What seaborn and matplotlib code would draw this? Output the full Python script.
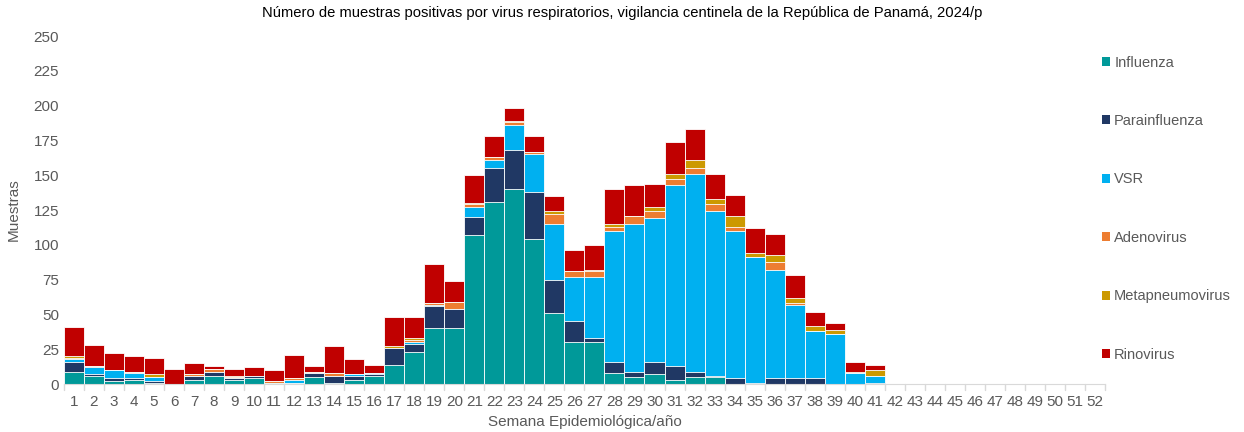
import matplotlib
matplotlib.use('Agg')
import matplotlib.pyplot as plt
import pandas as pd
import seaborn as sns
from matplotlib.patches import Patch

weeks = list(range(1, 53))

influenza = [9, 6, 2, 3, 1, 0, 3, 6, 3, 4, 1, 1, 5, 1, 3, 6, 14, 23, 40, 40,
             107, 131, 140, 104, 51, 30, 30, 8, 5, 7, 3, 5, 5, 0, 0, 0, 0, 0, 0, 0, 0]
parainfluenza = [7, 1, 2, 1, 1, 0, 3, 3, 1, 2, 0, 0, 3, 5, 3, 1, 12, 6, 16, 14,
                 13, 24, 28, 34, 24, 15, 3, 8, 4, 9, 10, 4, 1, 4, 1, 4, 4, 4, 0, 0, 1]
vsr = [2, 5, 6, 4, 3, 0, 0, 0, 0, 0, 0, 2, 0, 0, 1, 1, 0, 1, 1, 0,
       7, 6, 18, 27, 40, 32, 44, 94, 106, 103, 130, 142, 118, 106, 90, 78, 53, 34, 36, 8, 5]
adenovirus = [1, 1, 0, 1, 0, 0, 1, 2, 1, 0, 1, 1, 1, 2, 0, 0, 0, 2, 1, 5,
              2, 2, 2, 2, 7, 4, 4, 3, 6, 5, 4, 4, 5, 3, 0, 6, 1, 0, 0, 0, 0]
metapneumovirus = [1, 0, 0, 0, 2, 0, 0, 0, 1, 0, 0, 0, 0, 0, 0, 0, 1, 1, 0, 0,
                   1, 0, 1, 0, 2, 0, 1, 2, 0, 3, 4, 6, 4, 8, 3, 5, 4, 4, 3, 1, 4]
rinovirus = [21, 15, 12, 11, 12, 11, 8, 2, 5, 6, 8, 17, 4, 19, 11, 6, 21, 15, 28, 15,
             20, 15, 9, 11, 11, 15, 18, 25, 22, 17, 23, 22, 18, 15, 18, 15, 16, 10, 5, 7, 4]

series = {
    'Influenza': influenza,
    'Parainfluenza': parainfluenza,
    'VSR': vsr,
    'Adenovirus': adenovirus,
    'Metapneumovirus': metapneumovirus,
    'Rinovirus': rinovirus,
}
colors = {
    'Influenza': '#009999',
    'Parainfluenza': '#203864',
    'VSR': '#00B0F0',
    'Adenovirus': '#ED7D31',
    'Metapneumovirus': '#CC9900',
    'Rinovirus': '#C00000',
}

df = pd.DataFrame({'semana': weeks})
for name, vals in series.items():
    df[name] = vals + [0] * (len(weeks) - len(vals))

sns.set_style('white')
plt.rcParams['font.family'] = ['Liberation Sans', 'DejaVu Sans']
text_color = '#595959'

fig = plt.figure(figsize=(12.44, 4.32), dpi=100)
ax = fig.add_axes([0.0514, 0.111, 0.8368, 0.8056])

# stacked bars: draw cumulative totals from the top series down
x_labels = [str(w) for w in weeks]
bottom = pd.Series([0] * len(weeks), dtype=float)
for k, name in enumerate(series):
    sns.barplot(x=x_labels, y=df[name] + bottom, color=colors[name], ax=ax,
                width=1.0, edgecolor='white', linewidth=0.6, zorder=-k,
                order=x_labels, saturation=1)
    bottom = bottom + df[name]

ax.set_ylim(0, 250)
ax.set_xlim(-0.5, len(weeks) - 0.5)
ax.set_yticks(range(0, 251, 25))
ax.tick_params(axis='both', labelsize=11, colors=text_color, length=0)
ax.tick_params(axis='x', pad=8)
for s in ['top', 'right', 'left']:
    ax.spines[s].set_visible(False)
ax.spines['bottom'].set_color('#D9D9D9')
# Excel style ticks between categories
for i in range(len(weeks) + 1):
    ax.plot([i - 0.5, i - 0.5], [0, -4], color='#D9D9D9', lw=1, clip_on=False)

ax.set_xlabel('Semana Epidemiológica/año', fontsize=11, color=text_color, labelpad=4)
ax.set_ylabel('Muestras', fontsize=11, color=text_color, labelpad=9)
fig.suptitle('Número de muestras positivas por virus respiratorios, vigilancia centinela de la República de Panamá, 2024/p',
             fontsize=10.6, color='black', x=0.5, y=0.985)

handles = [Patch(facecolor=colors[n], edgecolor='none') for n in series]
fig.legend(handles, list(series), loc='upper left', bbox_to_anchor=(0.881, 0.885),
           frameon=False, fontsize=10.5, labelcolor=text_color, labelspacing=3.05,
           handlelength=0.55, handleheight=0.55, handletextpad=0.3, borderaxespad=0)

fig.savefig('out.png', dpi=100)
plt.close(fig)
